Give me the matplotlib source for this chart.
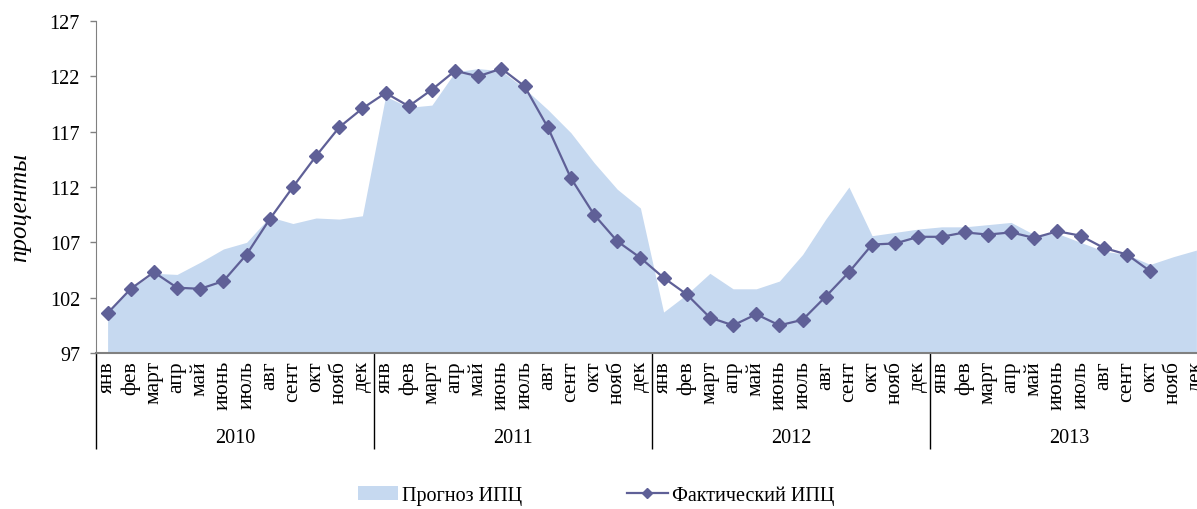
import matplotlib
matplotlib.use('Agg')
import matplotlib.pyplot as plt
from matplotlib.patches import Patch
from matplotlib.lines import Line2D
import numpy as np

plt.rcParams['font.family'] = ['Liberation Serif', 'DejaVu Serif']

#%% data
months = ['янв', 'фев', 'март', 'апр', 'май', 'июнь', 'июль', 'авг', 'сент', 'окт', 'нояб', 'дек']
years = ['2010', '2011', '2012', '2013']

# forecast CPI (area), jan 2010 .. dec 2013
forecast = [100.6, 102.8, 104.2, 104.1, 105.2, 106.4, 107.0, 109.3, 108.7, 109.2, 109.1, 109.4,
            120.2, 119.2, 119.4, 122.4, 122.7, 122.5, 120.9, 119.0, 116.9, 114.2, 111.8, 110.1,
            100.7, 102.3, 104.2, 102.8, 102.8, 103.5, 105.9, 109.1, 112.0, 107.6, 107.9, 108.2,
            108.4, 108.4, 108.6, 108.8, 107.7, 107.8, 107.0, 106.2, 105.9, 105.0, 105.7, 106.3]

# actual CPI (line), jan 2010 .. oct 2013
actual = [100.6, 102.8, 104.3, 102.9, 102.8, 103.5, 105.9, 109.1, 112.0, 114.8, 117.4, 119.1,
          120.5, 119.3, 120.8, 122.5, 122.0, 122.7, 121.1, 117.4, 112.8, 109.5, 107.1, 105.6,
          103.8, 102.3, 100.2, 99.5, 100.5, 99.5, 100.0, 102.1, 104.3, 106.8, 106.9, 107.5,
          107.5, 107.9, 107.7, 107.9, 107.4, 108.0, 107.6, 106.5, 105.9, 104.4]

yticks = [97, 102, 107, 112, 117, 122, 127]

#%% plot
fill_color = '#c6d9f0'
line_color = '#5f6097'
axis_color = '#808080'

fig = plt.figure(figsize=(11.97, 5.10), dpi=100)
ax = fig.add_axes([96 / 1197, 156 / 510, 1112 / 1197, 332 / 510])

x_all = np.arange(len(forecast))
ax.fill_between(x_all, 97, forecast, color=fill_color, lw=0, zorder=1)
ax.plot(np.arange(len(actual)), actual, color=line_color, lw=1.6,
        marker='D', markersize=7, zorder=3)

ax.set_xlim(-0.5, len(forecast) - 0.5)
ax.set_ylim(97, 127)
ax.set_yticks(yticks)
ax.tick_params(axis='y', labelsize=14.5, length=4.5, width=1, color=axis_color, pad=7)

# category axis: year separators as long major ticks, months as minor labels
ax.set_xticks([-0.5, 11.5, 23.5, 35.5, 47.5])
ax.set_xticklabels([])
ax.set_xticks(x_all, minor=True)
ax.set_xticklabels(months * len(years), minor=True, rotation=90, fontsize=15.5)
ax.tick_params(axis='x', which='major', length=69, width=1, color='black')
ax.tick_params(axis='x', which='minor', length=0, pad=5)

for i, yr in enumerate(years):
    ax.text(i * 12 + 5.5, -0.255, yr, transform=ax.get_xaxis_transform(),
            ha='center', va='center', fontsize=14.5)

for s in ['top', 'right']:
    ax.spines[s].set_visible(False)
ax.spines['left'].set_color(axis_color)
ax.spines['bottom'].set_color(axis_color)
ax.spines['bottom'].set_linewidth(1.5)

fig.text(20 / 1197, 302 / 510, 'проценты', rotation=90, style='italic',
         ha='center', va='center', fontsize=18)

handles = [Patch(facecolor=fill_color, edgecolor='none'),
           Line2D([], [], color=line_color, lw=1.6, marker='D', markersize=5)]
fig.legend(handles, ['Прогноз ИПЦ', 'Фактический ИПЦ'], loc='center',
           bbox_to_anchor=(0.498, 0.026), ncol=2, frameon=False, fontsize=14.5,
           handlelength=2.0, handletextpad=0.2, columnspacing=5.2)

fig.savefig('out.png', dpi=100)
